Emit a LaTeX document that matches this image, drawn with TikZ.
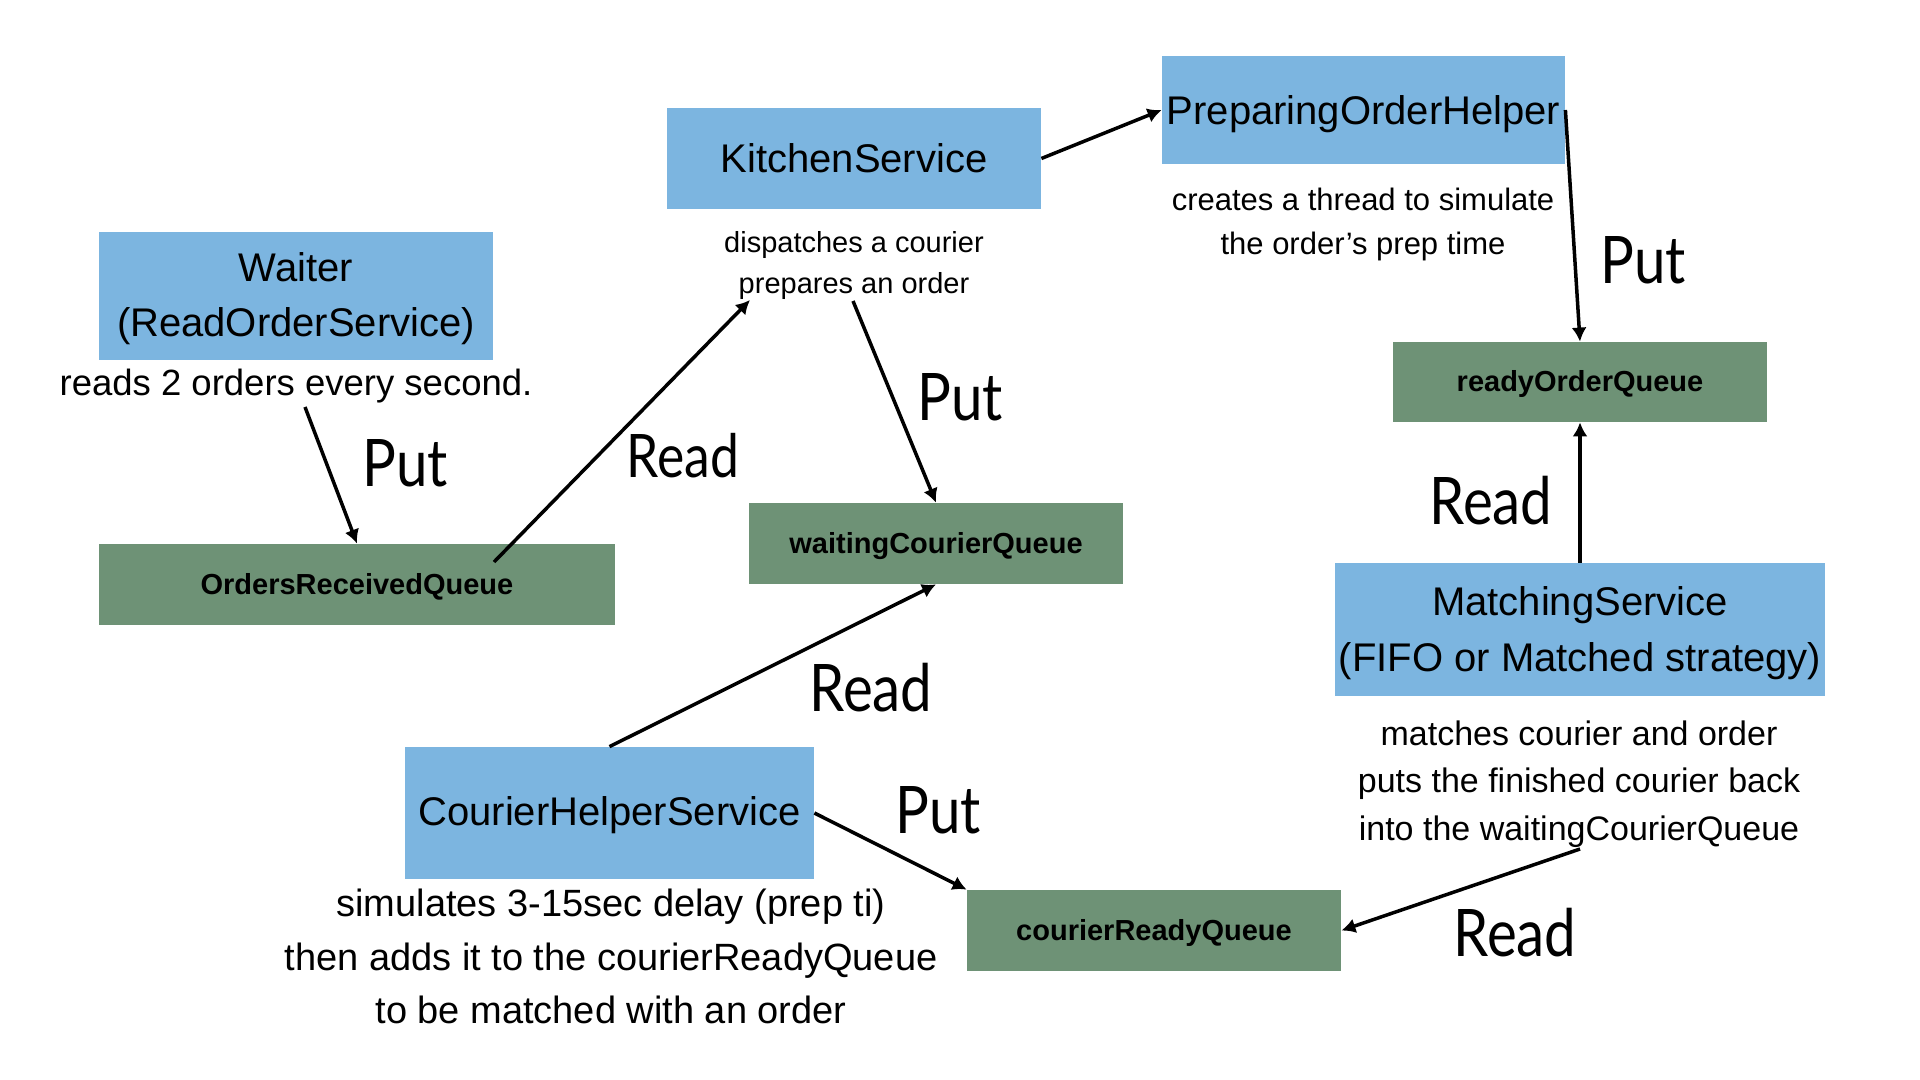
\documentclass[tikz,border=0pt]{standalone}
\usepackage{fontspec}
\usepackage{graphicx}
\setmainfont{Liberation Sans}
\newfontfamily\labelfont{Lato}
\usetikzlibrary{arrows.meta}
\definecolor{boxblue}{RGB}{124,181,224}
\definecolor{qgreen}{RGB}{110,146,118}
\newcommand\lowertext[2]{\raisebox{-#1}[\height][\depth]{#2}}
\begin{document}
\begin{tikzpicture}[x=0.5pt,y=-0.5pt,
  svc/.style={fill=boxblue, inner sep=0pt, align=center, text=black, font=\fontsize{20pt}{27.5pt}\selectfont},
  queue/.style={fill=qgreen, inner sep=0pt, minimum width=187pt, minimum height=40.5pt, text=black, font=\bfseries\fontsize{14.5pt}{17pt}\selectfont},
  desc/.style={inner sep=0pt, align=center},
  lbl/.style={inner sep=0pt, anchor=base, font=\labelfont\fontsize{32.8pt}{36pt}\selectfont},
  arr/.style={line width=1.75pt, -{Latex[length=7pt,width=7.5pt]}}
]
\fill[white] (0,0) rectangle (1920,1080);
\useasboundingbox (0,0) rectangle (1920,1080);

% service boxes
\node[svc, minimum width=197pt, minimum height=64pt, text depth=1.7pt] (waiter) at (296,296) {Waiter\\(ReadOrderService)};
\node[svc, minimum width=187pt, minimum height=50.5pt] (ks) at (854,158.5) {KitchenService};
\node[svc, minimum width=201.5pt, minimum height=54pt] (poh) at (1363.5,110) {\lowertext{2pt}{PreparingOrderHelper}};
\node[svc, minimum width=245pt, minimum height=66.5pt, text depth=0pt, font=\fontsize{20pt}{28pt}\selectfont] (ms) at (1580,629.5) {MatchingService\\(FIFO or Matched strategy)};
\node[svc, minimum width=204.5pt, minimum height=66pt] (chs) at (609.5,813) {\lowertext{1.25pt}{CourierHelperService}};

% queues
\node[queue, minimum width=258pt] (orq) at (357,584.5) {\lowertext{1pt}{OrdersReceivedQueue}};
\node[queue] (wcq) at (936,543.5) {\lowertext{1.25pt}{waitingCourierQueue}};
\node[queue, minimum height=40pt] (roq) at (1580,382) {\lowertext{1.25pt}{readyOrderQueue}};
\node[queue] (crq) at (1154,930.5) {\lowertext{1.25pt}{courierReadyQueue}};

% descriptions
\node[desc, anchor=base, font=\fontsize{18.25pt}{22pt}\selectfont] (wdesc) at (296,395.5) {reads 2 orders every second.};
\node[desc, font=\fontsize{14.5pt}{20.5pt}\selectfont] (kdesc) at (854,265.8) {dispatches a courier\\prepares an order};
\node[desc, font=\fontsize{15.5pt}{22pt}\selectfont] (pdesc) at (1363,224.7) {creates a thread to simulate\\the order’s prep time};
\node[desc, font=\fontsize{17pt}{23.75pt}\selectfont] (mdesc) at (1579,784.1) {matches courier and order\\puts the finished courier back\\into the waitingCourierQueue};
\node[desc, font=\fontsize{19pt}{26.75pt}\selectfont] (cdesc) at (611,956.5) {simulates 3-15sec delay (prep ti)\\then adds it to the courierReadyQueue\\to be matched with an order};

% connector end points at texts
\coordinate (wout) at (305,407);
\coordinate (orqout) at (494,562);
\coordinate (kin) at (750,300);
\coordinate (kout) at (853,301);
\coordinate (mout) at (1580,849);

% connectors
\draw[arr] (wout) -- (orq.north);
\draw[arr] (orqout) -- (kin);
\draw[arr] (kout) -- (wcq.north);
\draw[arr] (ks.east) -- (poh.west);
\draw[arr] (poh.east) -- (roq.north);
\draw[arr] (ms.north) -- (roq.south);
\draw[arr] (mout) -- (crq.east);
\draw[arr] (chs.north) -- (wcq.south);
\draw[arr] (chs.east) -- (crq.north west);

% labels
\node[lbl] (put1) at (405,486) {\scalebox{0.86}[1]{Put}};
\node[lbl, font=\labelfont\fontsize{30pt}{34pt}\selectfont] (read1) at (683,477) {\scalebox{0.86}[1]{Read}};
\node[lbl] (put2) at (960,420) {\scalebox{0.86}[1]{Put}};
\node[lbl] (read2) at (871,711) {\scalebox{0.86}[1]{Read}};
\node[lbl] (put3) at (938,833) {\scalebox{0.86}[1]{Put}};
\node[lbl] (put4) at (1643,284) {\scalebox{0.86}[1]{Put}};
\node[lbl] (read3) at (1491,524) {\scalebox{0.86}[1]{Read}};
\node[lbl] (read4) at (1515,956) {\scalebox{0.86}[1]{Read}};
\end{tikzpicture}
\end{document}
